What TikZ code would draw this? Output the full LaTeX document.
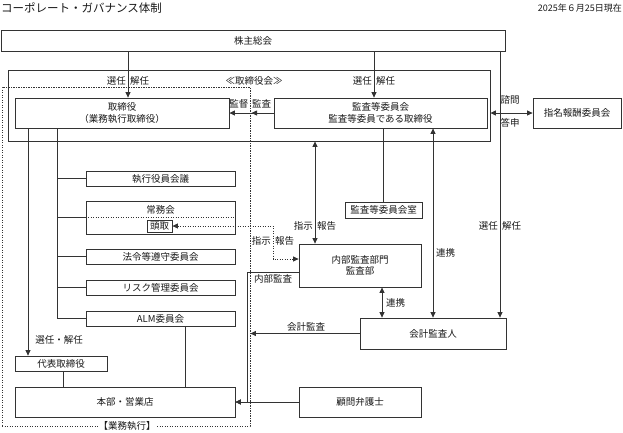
\documentclass[tikz,border=0pt]{standalone}
\usepackage{fontspec}
\setmainfont{Noto Sans CJK JP}
\usetikzlibrary{arrows.meta,calc,decorations.markings}
\begin{document}
\begin{tikzpicture}[x=1pt,y=-1pt,
  every node/.style={font=\fontsize{9.5}{11.5}\selectfont, text=black!90, inner sep=0pt},
  box/.style={draw=black!80, line width=0.8pt, fill=white, align=center},
  ln/.style={draw=black!80, line width=0.8pt},
  arr/.style={ln, -{Triangle[length=5.5pt,width=5pt]}},
  darr/.style={ln, {Triangle[length=5.5pt,width=5pt]}-{Triangle[length=5.5pt,width=5pt]}},
  dots/.style={draw=black!80, line width=0.8pt, dash pattern=on 1.2pt off 1.3pt},
  midarr/.style={postaction={decorate}, decoration={markings, mark=at position 0.5 with {\arrow{Triangle[length=5.5pt,width=5pt]}}}}
]
\useasboundingbox (0,0) rectangle (623,432);

% x positions
\coordinate (x28) at (28,0);
\coordinate (x57) at (57,0);
\coordinate (x63) at (63,0);
\coordinate (x128) at (128,0);
\coordinate (x185) at (185,0);
\coordinate (x247) at (247,0);
\coordinate (x273) at (273,0);
\coordinate (x315) at (315,0);
\coordinate (x374) at (374,0);
\coordinate (x382) at (382,0);
\coordinate (x433) at (433,0);
\coordinate (x500) at (500,0);

% header
\node[anchor=west, font=\fontsize{11.5}{13}\selectfont] (title) at (1,8) {コーポレート・ガバナンス体制};
\node[anchor=east, font=\fontsize{9}{11}\selectfont] (date) at (622,8) {2025年６月25日現在};

% frames
\node[draw=black!80, line width=0.8pt, minimum width=482pt, minimum height=71pt] (board) at (249,105.5) {};
\node[dots, minimum width=248pt, minimum height=339pt] (gyomu) at (126,256.5) {};
\node[fill=white, inner sep=1pt] (gyomul) at (127,426) {【業務執行】};
\node (bl) at (254,81) {≪取締役会≫};

% boxes
\node[box, minimum width=504pt, minimum height=21pt] (kabu) at (253,40.5) {株主総会};
\node[box, minimum width=214pt, minimum height=30pt] (tori) at (122,113) {取締役\\（業務執行取締役）};
\node[box, minimum width=213pt, minimum height=30pt] (kansa) at (380.5,113) {監査等委員会\\監査等委員である取締役};
\node[box, minimum width=88pt, minimum height=30pt] (shimei) at (577,113) {指名報酬委員会};
\node[box, minimum width=149pt, minimum height=15pt] (shikko) at (160.5,178.5) {執行役員会議};
\node[box, minimum width=149pt, minimum height=33pt] (jomu) at (160.5,217.5) {};
\node (jomut) at (160.5,209.5) {常務会};
\node[box, minimum width=149pt, minimum height=15pt] (horei) at (160.5,256.5) {法令等遵守委員会};
\node[box, minimum width=149pt, minimum height=15pt] (risk) at (160.5,287.5) {リスク管理委員会};
\node[box, minimum width=149pt, minimum height=15pt] (alm) at (160.5,318.5) {ALM委員会};
\node[box, minimum width=92pt, minimum height=15pt] (daihyo) at (61,363.5) {代表取締役};
\node[box, minimum width=220pt, minimum height=30pt] (honbu) at (125,402) {本部・営業店};
\node[box, minimum width=122pt, minimum height=43pt] (naibu) at (360,265.5) {内部監査部門\\監査部};
\node[box, minimum width=77pt, minimum height=16pt] (kshitsu) at (383.5,210) {監査等委員会室};
\node[box, minimum width=146pt, minimum height=31pt] (kaikei) at (433,333.5) {会計監査人};
\node[box, minimum width=122pt, minimum height=30pt] (komon) at (360,402) {顧問弁護士};

% dotted line inside 常務会 and 頭取
\draw[dots] (jomu.west) -- (jomu.east);
\node[box, minimum width=25pt, minimum height=12pt] (toudori) at (159.5,226) {頭取};

% shareholders -> board
\draw[arr] (kabu.south -| x128) -- (tori.north -| x128);
\node[anchor=east] (l1a) at (126,81) {選任};
\node[anchor=west] (l1b) at (130,81) {解任};
\draw[arr] (kabu.south -| x374) -- (kansa.north -| x374);
\node[anchor=east] (l2a) at (372,81) {選任};
\node[anchor=west] (l2b) at (376,81) {解任};
\draw[arr] (kabu.south -| x500) -- (kaikei.north -| x500);
\node[anchor=east] (l3a) at (498,226) {選任};
\node[anchor=west] (l3b) at (502,226) {解任};

% nomination committee
\draw[darr] (shimei.west) -- (shimei.west -| board.east);
\node (l4a) at (510,100) {諮問};
\node (l4b) at (510,123) {答申};

% supervision
\draw[arr, midarr] (kansa.west) -- (tori.east);
\node[anchor=east] (l5a) at (248.5,104) {監督};
\node[anchor=west] (l5b) at (252,104) {監査};

% executive tree
\draw[arr] (tori.south -| x28) -- (daihyo.north -| x28);
\node (l6) at (59,340) {選任・解任};
\draw[ln] (tori.south -| x57) |- (alm.west);
\foreach \n in {shikko,jomu,horei,risk} \draw[ln] (x57 |- \n.west) -- (\n.west);
\draw[ln] (alm.south -| x185) -- (honbu.north -| x185);
\draw[ln] (daihyo.south -| x63) -- (honbu.north -| x63);

% audit lines
\draw[arr] ($(naibu.west)+(0,6.5)$) -| (x247 |- honbu.east) -- (honbu.east);
\node (l7) at (273,279) {内部監査};
\draw[arr] (komon.west) -- (honbu.east);
\draw[arr] (kaikei.west) -- (gyomu.east |- kaikei.west);
\node (l8) at (306,327) {会計監査};
\draw[darr] (board.south -| x315) -- (naibu.north -| x315);
\node[anchor=east] (l9a) at (313,226) {指示};
\node[anchor=west] (l9b) at (317,226) {報告};
\draw[darr] (kansa.south -| x433) -- (kaikei.north -| x433);
\node[anchor=west] (l10) at (436,253) {連携};
\draw[ln] (kshitsu.north) -- (kshitsu.north |- kansa.south);
\draw[darr] (naibu.south -| x382) -- (kaikei.north -| x382);
\node[anchor=west] (l11) at (386,303) {連携};

% dotted instruction to 頭取
\coordinate (nwp) at ($(naibu.west)+(0,-6.5)$);
\draw[dots, {Triangle[length=5.5pt,width=5pt]}-{Triangle[length=5.5pt,width=5pt]}] (toudori.east) -- (toudori.east -| x273) -- (x273 |- nwp) -- (nwp);
\node[anchor=east] (l12a) at (271,241) {指示};
\node[anchor=west] (l12b) at (275,241) {報告};
\end{tikzpicture}
\end{document}
